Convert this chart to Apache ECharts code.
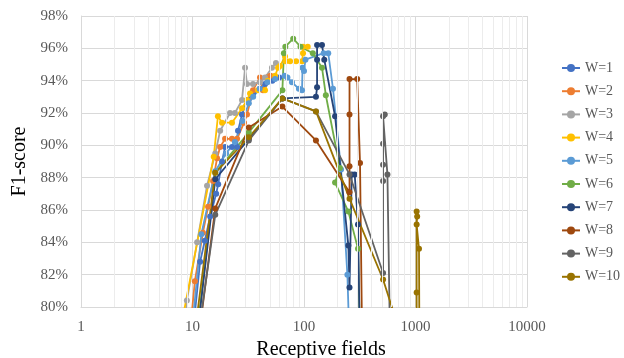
<!DOCTYPE html>
<html>
<head>
<meta charset="utf-8">
<script src="https://cdn.jsdelivr.net/npm/echarts@6/dist/echarts.min.js"></script>
<style>html,body{margin:0;padding:0;background:#fff;}#c{width:624px;height:358px;}</style>
</head>
<body>
<div id="c"></div>
<script>
// [receptive field, F1-score %]
const w1 = [[9.6,77],[11.7,82.8],[12.9,84.1],[14.4,85.6],[16.3,87.0],[17.0,87.6],[18.4,89.0],[19.6,89.9],[22.6,89.9],[25.1,89.9],[25.6,90.9],[27.8,91.9],[30.8,92.8],[34.9,93.2],[40.3,93.5],[44.7,93.8],[52,94.0],[60,94.2]];
const w2 = [[8.5,75],[10.5,81.6],[12.4,84.6],[13.8,86.2],[15.3,87.8],[16.6,89.2],[17.7,89.9],[19.6,90.4],[22.6,90.4],[25.1,90.4],[29.0,91.4],[30.8,91.9],[34.9,93.4],[40.3,94.2],[42.9,93.4],[46.6,94.2],[50,94.3]];
const w3 = [[8.2,78],[8.9,80.4],[11.0,84.0],[13.5,87.5],[16,89.5],[17.7,90.9],[21.7,92.0],[24,92.0],[27.8,92.8],[29.6,94.8],[30.8,93.8],[34.9,93.8],[40.3,93.9],[44.7,94.2],[51.6,94.8],[56,95.1]];
const w4 = [[7.5,78],[15.5,89.3],[16.9,91.8],[18.4,91.4],[22.6,91.4],[27.8,92.3],[30.8,92.8],[32.8,93.2],[38.7,93.4],[44.7,93.4],[47.5,94.0],[55,94.3],[58.5,94.8],[61,94.9],[67.6,95.5],[68.5,95.2],[75,95.2],[85,95.2],[96,95.2],[98,95.7],[98,96.1],[108,96.1]];
const w5 = [[8.5,74],[12,84.5],[16,88.4],[20,89.5],[24,90.2],[28,91.5],[32,92.6],[35,93.0],[40,93.5],[47,93.9],[55,94.1],[67,94.3],[71,94.2],[78,93.9],[90,93.5],[96,93.4],[97,94.8],[100,94.6],[103,95.3],[150,95.7],[165,95.7],[182,93.5],[215,88.5],[245,82],[258,77]];
const w6 = [[8,70],[16,88.3],[32,90.8],[64,93.4],[66,95.7],[68,96.1],[80,96.6],[93,96.1],[120,95.7],[145,94.8],[157,93.1],[210,88.6],[190,87.7],[250,85.9],[305,83.6],[325,75]];
const w7 = [[8,70],[16,87.9],[32,90.4],[64,92.9],[128,93.0],[131,93.6],[131,95.3],[131,96.2],[145,96.2],[152,95.3],[190,91.8],[250,83.8],[256,81.2],[268,88.2],[285,88.2],[305,85.1],[320,76]];
const w8 = [[8,70],[16,86.1],[32,91.1],[64,92.4],[128,90.3],[256,87.1],[256,88.7],[256,91.9],[256,94.1],[300,94.1],[318,88.9],[340,72]];
const w9 = [[8,71],[16,85.7],[32,90.3],[64,92.9],[128,92.1],[256,88.2],[512,82.1],[512,87.8],[512,88.8],[512,90.1],[512,91.8],[530,91.9],[560,88.2],[600,75]];
const w10 = [[8,72],[16,88.3],[32,90.5],[64,92.9],[128,92.1],[256,86.7],[512,81.7],[1024,75.2],[1024,80.9],[1024,85.9],[1035,85.6],[1024,85.1],[1075,83.6],[1090,74]];

const seriesNames = ['W=1','W=2','W=3','W=4','W=5','W=6','W=7','W=8','W=9','W=10'];
const seriesData = [w1,w2,w3,w4,w5,w6,w7,w8,w9,w10];
const colors = ['#4472C4','#ED7D31','#A5A5A5','#FFC000','#5B9BD5','#70AD47','#264478','#9E480E','#636363','#997300'];
const xMinorGrid = [2,3,4,5,6,7,8,9,20,30,40,50,60,70,80,90,200,300,400,500,600,700,800,900,2000,3000,4000,5000,6000,7000,8000,9000];

const font = 'Liberation Serif';
const chart = echarts.init(document.getElementById('c'), null, {renderer:'canvas'});
const series = seriesData.map((d,i)=>({
  name: seriesNames[i], type:'line', data:d, color: colors[i],
  symbol:'circle', symbolSize:6, showSymbol:true,
  lineStyle:{width:1.8, color:colors[i], type:'solid'}, itemStyle:{color:colors[i]},
  z: 3, clip:true
}));
series.unshift({
  name:'minorgrid', type:'line', data:[], z:1, silent:true,
  markLine:{silent:true, symbol:['none','none'], label:{show:false},
    lineStyle:{color:'#ECECEC', width:1, type:'solid'},
    emphasis:{disabled:true},
    data: xMinorGrid.map(v=>({xAxis:v}))}
});
chart.setOption({
  animation:false,
  backgroundColor:'#fff',
  color: colors,
  grid:{left:81, right:97, top:16, bottom:51, containLabel:false, outerBoundsMode:'none'},
  legend:{
    data: seriesNames, orient:'vertical', left:561, top:60, padding:0,
    itemWidth:18, itemHeight:10, itemGap:7.2,
    textStyle:{fontFamily:font, fontSize:14, color:'#595959', lineHeight:16}
  },
  xAxis:{
    type:'log', logBase:10, min:1, max:10000,
    name:'Receptive fields', nameLocation:'middle', nameGap:27,
    nameTextStyle:{fontFamily:font, fontSize:20, color:'#000', padding:[0,0,0,34]},
    axisLine:{show:true, lineStyle:{color:'#D9D9D9'}},
    axisTick:{show:false},
    axisLabel:{fontFamily:font, fontSize:15, color:'#595959', margin:13, formatter: v=>String(v)},
    splitLine:{show:true, lineStyle:{color:'#D9D9D9', width:1}}
  },
  yAxis:{
    type:'value', min:80, max:98, interval:2,
    name:'F1-score', nameLocation:'middle', nameGap:39, nameRotate:90,
    nameTextStyle:{fontFamily:font, fontSize:20, color:'#000'},
    axisLine:{show:true, lineStyle:{color:'#D9D9D9'}},
    axisTick:{show:false},
    axisLabel:{fontFamily:font, fontSize:15, color:'#595959', margin:13, formatter: v=>v+'%'},
    splitLine:{show:true, lineStyle:{color:'#D9D9D9', width:1}}
  },
  series: series
});
</script>
</body>
</html>
